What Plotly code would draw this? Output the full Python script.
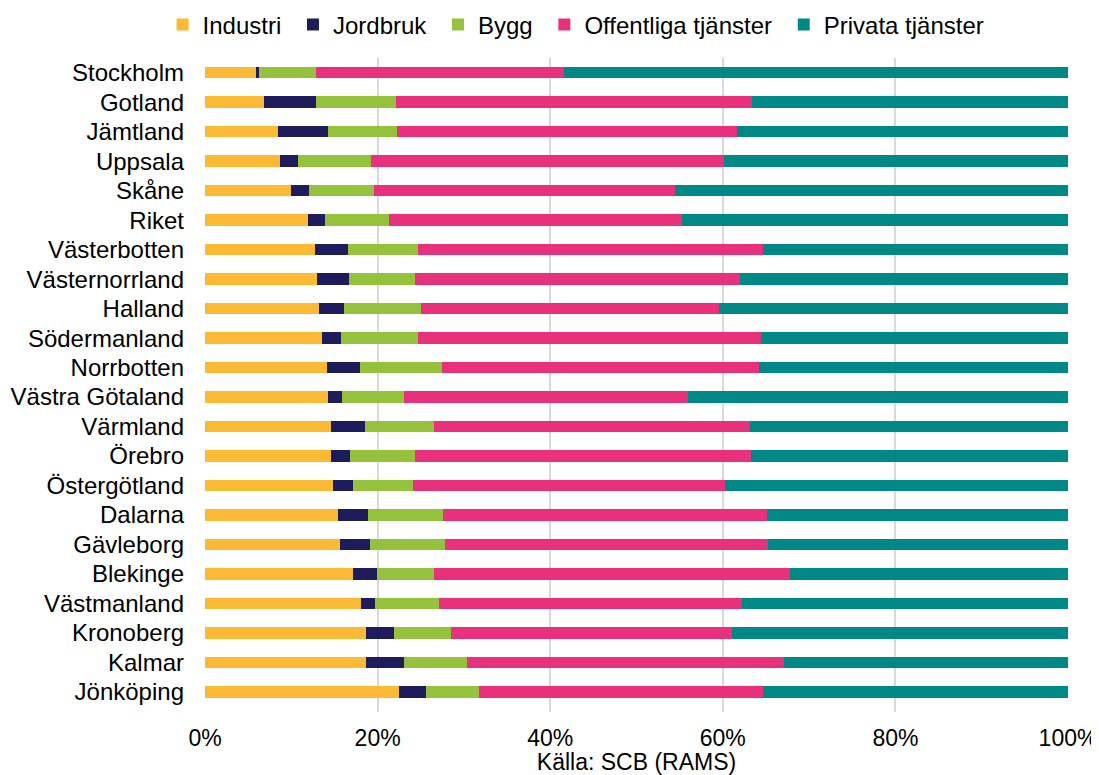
import plotly.graph_objects as go

regions = ["Stockholm", "Gotland", "Jämtland", "Uppsala", "Skåne", "Riket",
           "Västerbotten", "Västernorrland", "Halland", "Södermanland", "Norrbotten",
           "Västra Götaland", "Värmland", "Örebro", "Östergötland", "Dalarna",
           "Gävleborg", "Blekinge", "Västmanland", "Kronoberg", "Kalmar", "Jönköping"]

industri = [5.9, 6.8, 8.5, 8.7, 10.0, 11.9, 12.8, 13.0, 13.2, 13.6, 14.1,
            14.3, 14.6, 14.6, 14.8, 15.4, 15.6, 17.2, 18.1, 18.6, 18.6, 22.5]
jordbruk = [0.4, 6.1, 5.8, 2.1, 2.0, 2.0, 3.8, 3.7, 2.9, 2.2, 3.9,
            1.6, 3.9, 2.2, 2.3, 3.5, 3.5, 2.7, 1.6, 3.3, 4.5, 3.1]
bygg = [6.6, 9.2, 7.9, 8.4, 7.6, 7.4, 8.1, 7.6, 8.9, 8.9, 9.5,
        7.2, 8.0, 7.5, 7.0, 8.7, 8.7, 6.6, 7.4, 6.6, 7.3, 6.1]
offentliga = [28.7, 41.3, 39.5, 40.9, 34.9, 34.0, 39.9, 37.7, 34.6, 39.7, 36.7,
              32.9, 36.7, 39.0, 36.2, 37.5, 37.4, 41.3, 35.1, 32.6, 36.7, 33.0]
privata = [58.4, 36.6, 38.3, 39.9, 45.5, 44.7, 35.4, 38.0, 40.4, 35.6, 35.8,
           44.0, 36.8, 36.7, 39.7, 34.9, 34.8, 32.2, 37.8, 38.9, 32.9, 35.3]

series_names = ["Industri", "Jordbruk", "Bygg", "Offentliga tjänster", "Privata tjänster"]
series_values = [industri, jordbruk, bygg, offentliga, privata]
colors = ["#FBB934", "#1F1C5C", "#95C23D", "#E8317A", "#008887"]

x_ticks = [0, 20, 40, 60, 80, 100]
x_ticklabels = ["0%", "20%", "40%", "60%", "80%", "100%"]

fig = go.Figure()
n = len(series_names)
for i, (name, vals, col) in enumerate(zip(series_names, series_values, colors)):
    label = name + ("\u00a0" if i < n - 1 else "")
    fig.add_trace(go.Bar(
        y=regions, x=vals, name=label, orientation="h",
        marker=dict(color=col, line=dict(width=0)),
    ))

font_family = "Liberation Sans, Arial, sans-serif"
W, H = 1091, 767  # page has an 8px body margin
fig.update_layout(
    barmode="stack",
    bargap=0.61,
    width=W, height=H,
    margin=dict(l=197, r=31, t=50, b=63, autoexpand=False),
    paper_bgcolor="white", plot_bgcolor="white",
    font=dict(family=font_family, size=24, color="#000000"),
    legend=dict(
        orientation="h", x=0.43, xanchor="center",
        y=1 - 17 / H, yanchor="middle", yref="container",
        font=dict(size=24), itemwidth=30,
        traceorder="normal", tracegroupgap=0,
    ),
    showlegend=True,
)
fig.update_xaxes(
    range=[0, 100], tickvals=x_ticks, ticktext=x_ticklabels,
    showgrid=True, gridcolor="#d9d9d9", gridwidth=2,
    zeroline=False, showline=False, ticks="",
    tickfont=dict(size=23), automargin=False, ticklabelstandoff=10,
    title=dict(text="Källa: SCB (RAMS)", font=dict(size=23), standoff=6),
    fixedrange=True,
)
fig.update_yaxes(
    categoryorder="array", categoryarray=regions,
    range=[21.68, -0.5], autorange=False,
    showgrid=False, ticks="", tickfont=dict(size=24),
    showline=False, ticklabelstandoff=20, automargin=False,
)

fig.write_html("out.html")
